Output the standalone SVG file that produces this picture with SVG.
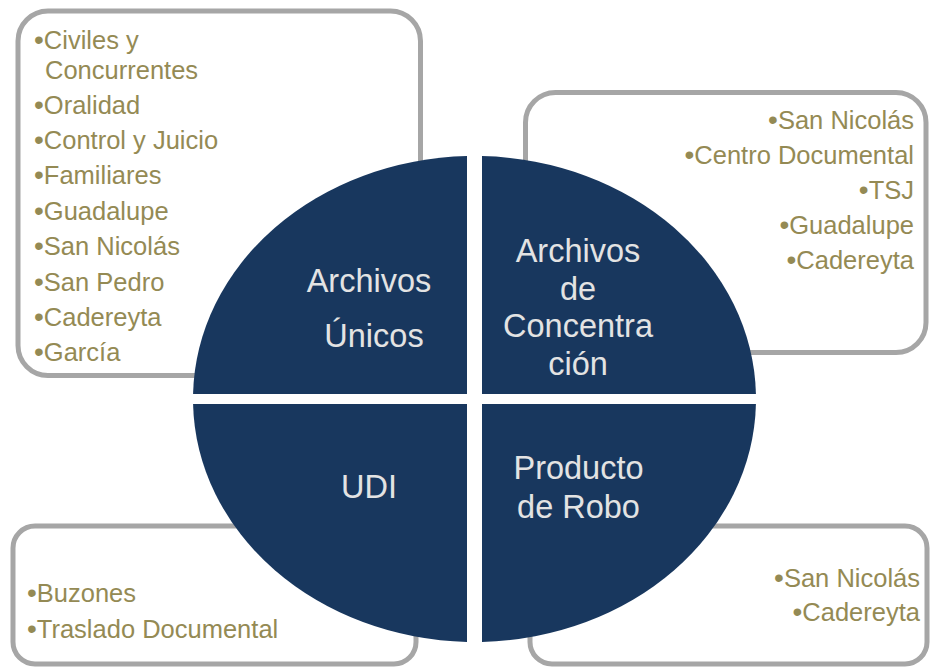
<svg xmlns="http://www.w3.org/2000/svg" width="930" height="667" viewBox="0 0 930 667">
<style>
.box{fill:#ffffff;stroke:#a6a6a6;stroke-width:5}
.item{font-family:"Liberation Sans",Arial,sans-serif;font-size:25.5px;fill:#948a54}
.b{font-size:28px}
.r{text-anchor:end}
.q{fill:#18375e}
.lbl{font-family:"Liberation Sans",Arial,sans-serif;font-size:32.5px;fill:#e3e3e3;text-anchor:middle}
</style>
<rect width="930" height="667" fill="#ffffff"/>
<g id="box-archivos-unicos">
<rect class="box" x="18" y="11" width="402.5" height="364.5" rx="30" ry="30"/>
<text class="item" x="34" y="49"><tspan class="b">•</tspan>Civiles y</text>
<text class="item" x="45" y="79">Concurrentes</text>
<text class="item" x="34" y="114"><tspan class="b">•</tspan>Oralidad</text>
<text class="item" x="34" y="149"><tspan class="b">•</tspan>Control y Juicio</text>
<text class="item" x="34" y="184"><tspan class="b">•</tspan>Familiares</text>
<text class="item" x="34" y="220"><tspan class="b">•</tspan>Guadalupe</text>
<text class="item" x="34" y="255"><tspan class="b">•</tspan>San Nicolás</text>
<text class="item" x="34" y="290.5"><tspan class="b">•</tspan>San Pedro</text>
<text class="item" x="34" y="325.5"><tspan class="b">•</tspan>Cadereyta</text>
<text class="item" x="34" y="360.5"><tspan class="b">•</tspan>García</text>
</g>
<g id="box-archivos-concentracion">
<rect class="box" x="525.5" y="92.5" width="400.5" height="260" rx="30" ry="30"/>
<text class="item r" x="914" y="129"><tspan class="b">•</tspan>San Nicolás</text>
<text class="item r" x="914" y="164"><tspan class="b">•</tspan>Centro Documental</text>
<text class="item r" x="914" y="199"><tspan class="b">•</tspan>TSJ</text>
<text class="item r" x="914" y="234"><tspan class="b">•</tspan>Guadalupe</text>
<text class="item r" x="914" y="269"><tspan class="b">•</tspan>Cadereyta</text>
</g>
<g id="box-udi">
<rect class="box" x="13" y="526" width="403" height="138" rx="22" ry="22"/>
<text class="item" x="27" y="602"><tspan class="b">•</tspan>Buzones</text>
<text class="item" x="27" y="638"><tspan class="b">•</tspan>Traslado Documental</text>
</g>
<g id="box-producto-robo">
<rect class="box" x="530" y="526" width="397" height="138" rx="22" ry="22"/>
<text class="item r" x="920" y="587"><tspan class="b">•</tspan>San Nicolás</text>
<text class="item r" x="920" y="621"><tspan class="b">•</tspan>Cadereyta</text>
</g>
<g id="q-archivos-unicos">
<path class="q" d="M467,394 L193.06,394 A281.5,243 0 0 1 467,156.09 Z"/>
<text class="lbl" x="369" y="292">Archivos</text>
<text class="lbl" x="374" y="347">Únicos</text>
</g>
<g id="q-archivos-concentracion">
<path class="q" d="M482,394 L482,156.09 A281.5,243 0 0 1 755.94,394 Z"/>
<text class="lbl" x="578" y="262">Archivos</text>
<text class="lbl" x="578" y="300">de</text>
<text class="lbl" x="578" y="337">Concentra</text>
<text class="lbl" x="578" y="375">ción</text>
</g>
<g id="q-udi">
<path class="q" d="M467,404 L467,641.91 A281.5,243 0 0 1 193.06,404 Z"/>
<text class="lbl" x="369" y="498">UDI</text>
</g>
<g id="q-producto-robo">
<path class="q" d="M482,404 L755.94,404 A281.5,243 0 0 1 482,641.91 Z"/>
<text class="lbl" x="578.5" y="479">Producto</text>
<text class="lbl" x="578.5" y="518">de Robo</text>
</g>
<g id="connectors"/>
</svg>
